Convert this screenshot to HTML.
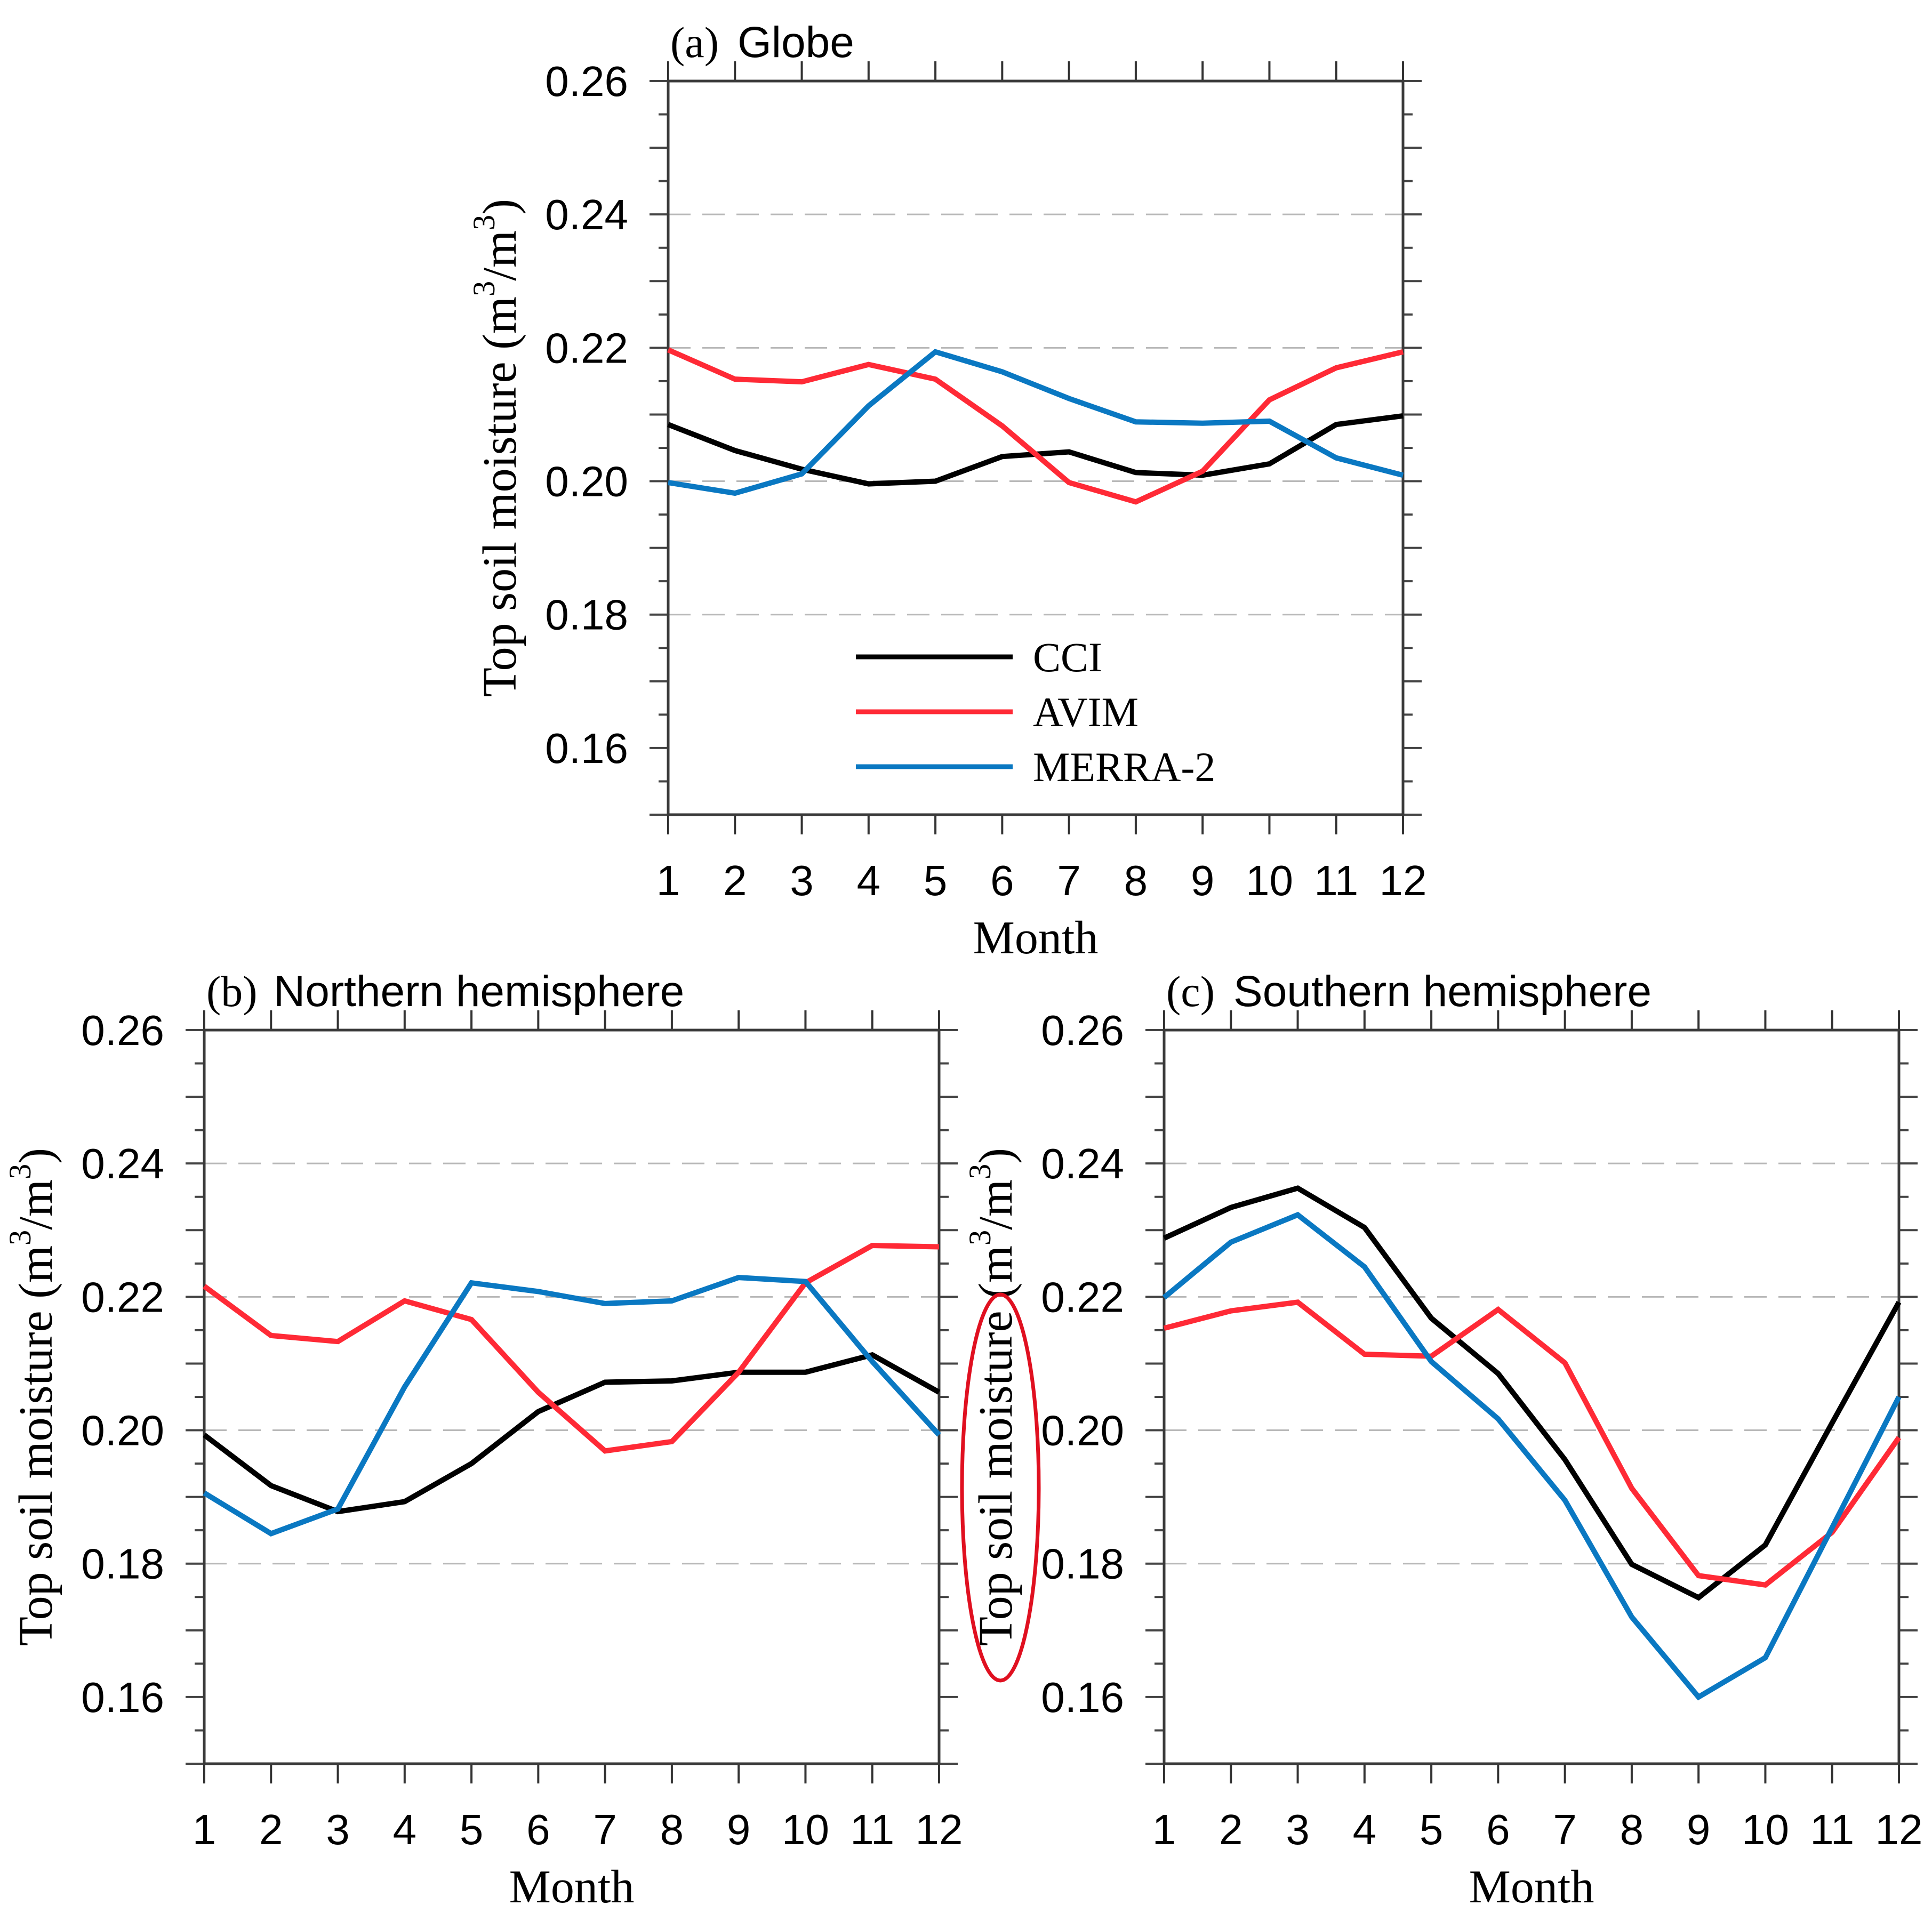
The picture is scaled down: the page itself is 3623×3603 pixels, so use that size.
<!DOCTYPE html>
<html><head><meta charset="utf-8"><style>
html,body{margin:0;padding:0;background:#fff;}
svg{display:block;}
</style></head><body>
<svg id="fig" xmlns="http://www.w3.org/2000/svg" width="3623" height="3603" viewBox="0 0 3623 3603"></svg>
<script>
const months = [1,2,3,4,5,6,7,8,9,10,11,12];
const yTicks = [0.16,0.18,0.20,0.22,0.24,0.26];
const yTickLabels = ["0.16","0.18","0.20","0.22","0.24","0.26"];
const gridVals = [0.18,0.20,0.22,0.24];
const seriesNames = ["CCI","AVIM","MERRA-2"];
const seriesColors = ["#000000","#ff2a36","#0a78c2"];
const globeCCI = [0.2085,0.2046,0.2018,0.1996,0.2000,0.2037,0.2044,0.2013,0.2009,0.2026,0.2085,0.2098];
const globeAVIM = [0.2197,0.2153,0.2149,0.2175,0.2153,0.2083,0.1998,0.1969,0.2015,0.2122,0.2170,0.2194];
const globeMERRA = [0.1998,0.1982,0.2011,0.2113,0.2194,0.2164,0.2124,0.2089,0.2087,0.2090,0.2035,0.2009];
const nhCCI = [0.1993,0.1917,0.1878,0.1893,0.1950,0.2028,0.2072,0.2074,0.2087,0.2087,0.2113,0.2057];
const nhAVIM = [0.2216,0.2142,0.2133,0.2194,0.2166,0.2057,0.1969,0.1983,0.2087,0.2221,0.2277,0.2275];
const nhMERRA = [0.1906,0.1845,0.1882,0.2065,0.2221,0.2208,0.2190,0.2194,0.2229,0.2223,0.2103,0.1993];
const shCCI = [0.2288,0.2334,0.2363,0.2304,0.2168,0.2085,0.1956,0.1799,0.1749,0.1828,0.2011,0.2192];
const shAVIM = [0.2153,0.2179,0.2192,0.2114,0.2111,0.2181,0.2101,0.1913,0.1782,0.1768,0.1847,0.1989];
const shMERRA = [0.2199,0.2282,0.2323,0.2245,0.2103,0.2017,0.1895,0.1720,0.1600,0.1659,0.1854,0.2050];

const NS = "http://www.w3.org/2000/svg";
const svg = document.getElementById('fig');
function mk(tag, attrs, parent, text){
  const e = document.createElementNS(NS, tag);
  for (const k in attrs) e.setAttribute(k, attrs[k]);
  if (text !== undefined) e.textContent = text;
  (parent||svg).appendChild(e);
  return e;
}
const W = 1378, Y0 = 0.15, Y1 = 0.26;
function panel(key, left, top, letter, title, data, legend){
  const H = 1376;
  const g = mk('g', {});
  
  
  const xs = m => left + (m - 1) / 11 * W;
  const ys = v => top + (Y1 - v) / (Y1 - Y0) * H;
  const bottom = ys(Y0), right = left + W;
  gridVals.forEach(v => {
    const l = mk('line', {x1:left, x2:right, y1:ys(v), y2:ys(v), stroke:'#b8b8b8', 'stroke-width':3, 'stroke-dasharray':'42 22'}, g);
    
    
  });
  for (let i = 0; i <= 22; i++) {
    const v = Y0 + i * 0.005;
    const major = Math.abs(Math.round(v*100) - v*100) < 1e-6;
    const len = major ? 35 : 18;
    mk('line', {x1:left-len, x2:left, y1:ys(v), y2:ys(v), stroke:'#444', 'stroke-width':4}, g);
    mk('line', {x1:right, x2:right+len, y1:ys(v), y2:ys(v), stroke:'#444', 'stroke-width':4}, g);
  }
  months.forEach(m => {
    mk('line', {x1:xs(m), x2:xs(m), y1:bottom, y2:bottom+37, stroke:'#333', 'stroke-width':4}, g);
    mk('line', {x1:xs(m), x2:xs(m), y1:top-37, y2:top, stroke:'#333', 'stroke-width':4}, g);
    const t = mk('text', {x:xs(m), y:bottom+151, 'text-anchor':'middle', 'font-family':'"Liberation Sans", sans-serif', 'font-size':80}, g, String(m));
    
    
  });
  yTicks.forEach((v, i) => {
    const t = mk('text', {x:left-75, y:ys(v)+28, 'text-anchor':'end', 'font-family':'"Liberation Sans", sans-serif', 'font-size':80}, g, yTickLabels[i]);
    
    
  });
  const fr = mk('rect', {x:left, y:top, width:W, height:bottom-top, fill:'none', stroke:'#3a3a3a', 'stroke-width':5}, g);
  
  
  data.forEach((arr, si) => {
    const pts = arr.map((v, i) => xs(months[i]) + ',' + ys(v)).join(' ');
    const p = mk('polyline', {points:pts, fill:'none', stroke:seriesColors[si], 'stroke-width':10, 'stroke-linejoin':'miter'}, g);
    
    
  });
  const tt = mk('text', {x:left+4, y:top-45, 'font-family':'"Liberation Serif", serif', 'font-size':82}, g, '(' + letter + ')');
  
  
  const t2 = mk('text', {x:left+130, y:top-45, 'font-family':'"Liberation Sans", sans-serif', 'font-size':82}, g, title);
  
  
  const xl = mk('text', {x:left+W/2, y:bottom+260, 'text-anchor':'middle', 'font-family':'"Liberation Serif", serif', 'font-size':88}, g, 'Month');
  
  
  const cy = (top + bottom) / 2, cx = left - 307;
  const yl = mk('text', {x:cx, y:cy, 'text-anchor':'middle', 'dominant-baseline':'middle', transform:'rotate(-90 '+cx+' '+cy+')', 'font-family':'"Liberation Serif", serif', 'font-size':90}, g);
  
  
  mk('tspan', {}, yl, 'Top soil moisture (m');
  mk('tspan', {dy:-32, 'font-size':58}, yl, '3');
  mk('tspan', {dy:32}, yl, '/m');
  mk('tspan', {dy:-32, 'font-size':58}, yl, '3');
  mk('tspan', {dy:32}, yl, ')');
  if (legend) {
    seriesNames.forEach((n, i) => {
      const y = 1232 + i * 103;
      const l = mk('line', {x1:1605, x2:1899, y1:y, y2:y, stroke:seriesColors[i], 'stroke-width':9}, g);
      
      
      const t = mk('text', {x:1937, y:y+27, 'font-family':'"Liberation Serif", serif', 'font-size':78}, g, n);
      
      
    });
  }
  return cx;
}
panel('globe', 1253, 152, 'a', 'Globe', [globeCCI, globeAVIM, globeMERRA], true);
panel('northern', 383, 1932, 'b', 'Northern hemisphere', [nhCCI, nhAVIM, nhMERRA], false);
const cx = panel('southern', 2183, 1932, 'c', 'Southern hemisphere', [shCCI, shAVIM, shMERRA], false);
const el = mk('ellipse', {cx:cx, cy:2790, rx:72, ry:362, fill:'none', stroke:'#e01020', 'stroke-width':7});


</script>
</body></html>
